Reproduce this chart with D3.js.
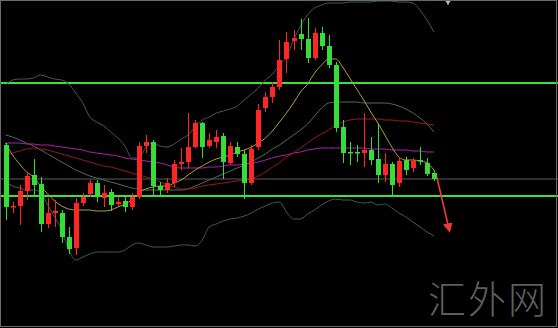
<!DOCTYPE html>
<html>
<head>
<meta charset="utf-8">
<script src="https://cdn.jsdelivr.net/npm/d3@7/dist/d3.min.js"></script>
<style>
  html, body { margin: 0; padding: 0; background: #000; }
  svg { display: block; }
</style>
</head>
<body>
<svg id="chart"></svg>
<script>
// candle data, one entry per bar (red = up, green = down)
const opens  = [1855,1793,1794,1809,1825,1816,1776,1787,1787,1763,1752,1797,1806,1817,1802,1808,1796,1799,1793,1803,
                1854,1858,1814,1810,1817,1836,1838,1853,1877,1854,1858,1864,1837,1853,1846,1817,1853,1892,1903,1913,
                1941,1959,1966,1961,1942,1967,1954,1935,1873,1848,1848,1847,1850,1841,1825,1836,1817,1840,1832,1840,
                1837,1827]
const highs  = [1857,1798,1815,1828,1841,1823,1802,1800,1790,1773,1802,1807,1820,1820,1815,1811,1803,1805,1807,1858,
                1865,1860,1818,1822,1840,1852,1887,1880,1878,1867,1870,1867,1858,1858,1850,1855,1896,1908,1918,1960,
                1968,1970,1981,1982,1972,1973,1965,1938,1880,1858,1855,1887,1863,1877,1847,1838,1843,1843,1842,1853,
                1842,1830]
const lows   = [1780,1787,1775,1800,1805,1768,1772,1773,1757,1746,1745,1794,1803,1798,1793,1789,1794,1788,1790,1801,
                1847,1805,1803,1807,1813,1830,1832,1852,1842,1852,1852,1821,1835,1843,1801,1815,1850,1888,1897,1910,
                1927,1950,1950,1937,1940,1950,1932,1868,1837,1835,1838,1833,1835,1817,1818,1805,1813,1825,1828,1835,
                1824,1819]
const closes = [1793,1794,1809,1824,1815,1776,1787,1789,1763,1751,1797,1803,1817,1803,1807,1795,1798,1793,1803,1854,
                1858,1814,1810,1817,1836,1838,1853,1877,1853,1860,1863,1838,1854,1846,1817,1851,1890,1903,1913,1940,
                1958,1962,1961,1942,1967,1954,1935,1872,1847,1847,1847,1850,1840,1825,1836,1815,1839,1830,1839,1839,
                1826,1821]

// indicator lines
const ma5 = [1857,1845,1836,1828,1823,1814,1806,1799,1794,1791,1790,1790,1790,1789,1789,1790,1793,1796,1800,1807,
             1811,1813,1814,1814,1817,1820,1825,1830,1834,1838,1841,1843,1845,1848,1850,1853,1857,1862,1869,1878,
             1887,1897,1908,1916,1927,1935,1941,1941,1933,1922,1911,1900,1888,1877,1865,1853,1843,1840,1840,1839,
             1837,1830]
const bollUpper = [1915,1920,1921,1921,1922,1925,1923,1921,1920,1916,1907,1897,1883,1878,1874,1868,1862,1854,1842,1842,
                   1853,1857,1854,1853,1856,1861,1865,1873,1880,1883,1887,1889,1891,1894,1900,1906,1912,1920,1926,1935,
                   1943,1960,1974,1985,1992,1995,1997,1997,1997,1998,1998,1998,1998,1999,1999,1999,1998,1998,1997,1990,
                   1980,1968]
const bollMid = [1865,1863,1860,1857,1854,1850,1846,1842,1838,1834,1830,1827,1824,1822,1820,1818,1816,1814,1812,1811,
                 1810,1810,1810,1810,1810,1810,1811,1814,1817,1820,1823,1826,1829,1832,1835,1838,1842,1846,1851,1855,
                 1860,1865,1870,1876,1884,1892,1897,1898,1898,1898,1898,1897,1897,1897,1897,1896,1894,1891,1887,1882,
                 1876,1868]
const bollLower = [1818,1814,1812,1810,1810,1808,1795,1783,1770,1750,1740,1743,1746,1748,1748,1748,1748,1750,1755,1757,
                   1755,1753,1753,1753,1754,1755,1755,1754,1760,1773,1776,1779,1781,1782,1784,1787,1791,1794,1797,1798,
                   1788,1781,1781,1786,1790,1795,1799,1801,1800,1800,1798,1797,1798,1795,1796,1792,1787,1783,1778,1773,
                   1768,1764]
const ma30 = [1845,1847,1849,1851,1852,1851,1850,1848,1846,1844,1842,1840,1838,1836,1834,1833,1831,1829,1827,1825,
              1823,1821,1818,1815,1813,1811,1811,1812,1814,1815,1816,1817,1818,1819,1820,1821,1824,1828,1833,1837,
              1843,1847,1852,1857,1862,1866,1870,1875,1878,1880,1881,1881,1881,1881,1880,1880,1879,1879,1878,1877,
              1876,1875]
const ma60 = [1857,1857,1857,1856,1856,1855,1855,1854,1853,1852,1851,1850,1848,1847,1846,1845,1844,1842,1841,1840,
              1839,1838,1837,1835,1833,1832,1832,1832,1832,1833,1833,1834,1835,1835,1836,1837,1838,1840,1842,1844,
              1845,1847,1848,1850,1851,1852,1852,1852,1852,1852,1852,1852,1851,1851,1851,1850,1850,1850,1849,1849,
              1848,1848]

const levels = [1917, 1804]      // green support / resistance
const lastPrice = 1821           // thin gray line
const arrowFrom = {i: 61.4, p: 1823}
const arrowTo = {i: 63.2, p: 1769}

const W = 558, H = 328

const svg = d3.select('#chart').attr('width', W).attr('height', H)
svg.append('rect').attr('width', W).attr('height', H).attr('fill', '#000')

const bars = opens.map((o, i) => ({i: i, o: o, h: highs[i], l: lows[i], c: closes[i]}))

const x = d3.scaleLinear().domain([0, bars.length - 1]).range([5.5, 434])
const y = d3.scaleLinear().domain([1672, 2000]).range([H, 0])

const plot = svg.append('g')

// horizontal levels
plot.append('line')
    .attr('x1', 0).attr('x2', W)
    .attr('y1', y(lastPrice)).attr('y2', y(lastPrice))
    .attr('stroke', '#5a5a5a').attr('stroke-width', 1)

plot.selectAll('.level')
    .data(levels)
    .join('line')
    .attr('class', 'level')
    .attr('x1', 0).attr('x2', W)
    .attr('y1', d => y(d)).attr('y2', d => y(d))
    .attr('stroke', '#3ee03e').attr('stroke-width', 2)

// indicator lines
const lineGen = d3.line()
    .x((d, i) => x(i))
    .y(d => y(d))
    .curve(d3.curveMonotoneX)

const series = [
    {vals: bollUpper, color: '#3f5f50'},
    {vals: bollLower, color: '#3f5f50'},
    {vals: bollMid, color: '#4c6e5e'},
    {vals: ma60, color: '#b020b0'},
    {vals: ma30, color: '#9a1a1a'},
    {vals: ma5, color: '#b0a040'}
]
plot.selectAll('.ind')
    .data(series)
    .join('path')
    .attr('class', 'ind')
    .attr('d', d => lineGen(d.vals))
    .attr('fill', 'none')
    .attr('stroke', d => d.color)
    .attr('stroke-width', 1)

// candles
const up = '#ff2626', down = '#38dc38'
const bw = 5
const candle = plot.selectAll('.candle')
    .data(bars)
    .join('g')
    .attr('class', 'candle')

candle.append('line')
    .attr('x1', d => Math.round(x(d.i)) + 0.5).attr('x2', d => Math.round(x(d.i)) + 0.5)
    .attr('y1', d => y(d.h)).attr('y2', d => y(d.l))
    .attr('stroke', d => d.c >= d.o ? up : down)

candle.append('rect')
    .attr('x', d => Math.round(x(d.i)) - 2)
    .attr('width', bw)
    .attr('y', d => y(Math.max(d.o, d.c)))
    .attr('height', d => Math.max(1.5, Math.abs(y(d.o) - y(d.c))))
    .attr('fill', d => d.c >= d.o ? up : down)

// forecast arrow
const defs = svg.append('defs')
defs.append('marker')
    .attr('id', 'head')
    .attr('viewBox', '0 0 10 10')
    .attr('refX', 8).attr('refY', 5)
    .attr('markerWidth', 6).attr('markerHeight', 6)
    .attr('orient', 'auto')
    .append('path')
    .attr('d', 'M0,0L10,5L0,10z')
    .attr('fill', '#f03a3a')

plot.append('line')
    .attr('x1', x(arrowFrom.i)).attr('y1', y(arrowFrom.p))
    .attr('x2', x(arrowTo.i)).attr('y2', y(arrowTo.p))
    .attr('stroke', '#f03a3a').attr('stroke-width', 1.6)
    .attr('marker-end', 'url(#head)')

// little marker at top
plot.append('path')
    .attr('d', d3.symbol().type(d3.symbolTriangle).size(14))
    .attr('transform', 'translate(448,2) rotate(180)')
    .attr('fill', '#bbb')

// watermark
svg.append('text')
    .attr('x', 428).attr('y', 313)
    .attr('font-family', '"Noto Sans CJK SC", sans-serif')
    .attr('font-size', 38)
    .attr('font-weight', 300)
    .attr('letter-spacing', 2)
    .attr('fill', '#5e5e5e')
    .text('汇外网')

// frame
svg.append('rect')
    .attr('x', 0.5).attr('y', 0.5)
    .attr('width', W - 2).attr('height', H - 2)
    .attr('fill', 'none')
    .attr('stroke', '#6a6a6a')
</script>
</body>
</html>
